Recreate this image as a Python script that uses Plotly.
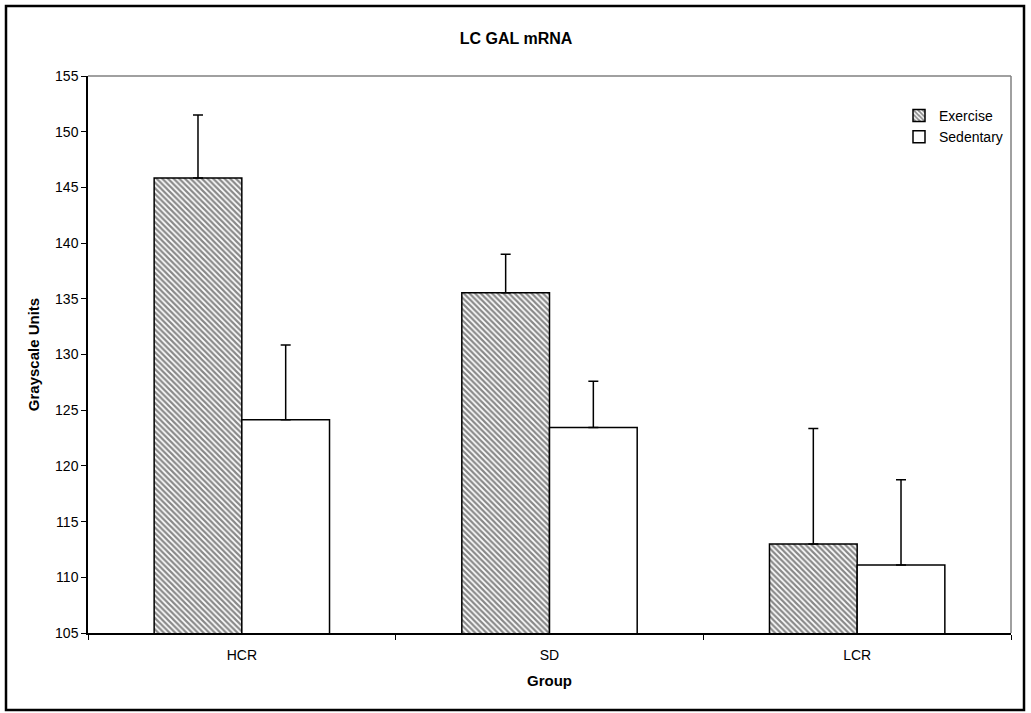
import plotly.graph_objects as go

groups = ["HCR", "SD", "LCR"]
exercise = [145.85, 135.55, 113.0]
exercise_err = [5.65, 3.45, 10.35]
sedentary = [124.15, 123.45, 111.1]
sedentary_err = [6.7, 4.15, 7.65]
y_ticks = [105, 110, 115, 120, 125, 130, 135, 140, 145, 150, 155]

FONT = "Liberation Sans, Arial, sans-serif"

fig = go.Figure()
fig.add_trace(go.Bar(
    name="Exercise", x=groups, y=exercise,
    marker=dict(color="white", line=dict(color="#000000", width=1.5),
                pattern=dict(shape="\\", fgcolor="#111111", bgcolor="white",
                             size=4, solidity=0.55)),
    error_y=dict(type="data", array=exercise_err, arrayminus=[0, 0, 0],
                 symmetric=False, color="#000000", thickness=1.5, width=5),
))
fig.add_trace(go.Bar(
    name="Sedentary", x=groups, y=sedentary,
    marker=dict(color="white", line=dict(color="#000000", width=1.5)),
    error_y=dict(type="data", array=sedentary_err, arrayminus=[0, 0, 0],
                 symmetric=False, color="#000000", thickness=1.5, width=5),
))

L, R, T, B = 88, 20, 76, 80
W, H = 1031, 713
pw, ph = W - L - R, H - T - B

def px(x):
    return (x - L) / pw

def py(y):
    return (H - B - y) / ph

fig.update_layout(
    width=W, height=H,
    margin=dict(l=L, r=R, t=T, b=B),
    paper_bgcolor="white", plot_bgcolor="white",
    barmode="group", bargap=0.43, bargroupgap=0,
    font=dict(family=FONT, size=14, color="#000000"),
    title=dict(text="<b>LC GAL mRNA</b>", x=px(516), xref="paper", xanchor="center",
               y=1 - 38 / H, yanchor="middle", font=dict(size=16, family=FONT)),
    showlegend=True,
    legend=dict(x=px(1008), y=py(100), xanchor="right", yanchor="top",
                bgcolor="rgba(0,0,0,0)", borderwidth=0, itemwidth=30,
                font=dict(size=14, family=FONT), tracegroupgap=0),
    xaxis=dict(
        title=dict(text="<b>Group</b>", font=dict(size=15, family=FONT), standoff=14),
        showline=True, linecolor="#000000", linewidth=1.5,
        ticks="outside", tickson="boundaries", ticklen=5, tickcolor="#000000",
        ticklabelstandoff=8,
        mirror=False, showgrid=False, zeroline=False,
        tickfont=dict(size=14, family=FONT),
    ),
    yaxis=dict(
        title=dict(text="<b>Grayscale Units</b>", font=dict(size=15, family=FONT), standoff=12),
        range=[105, 155], tickvals=y_ticks, ticktext=[str(v) for v in y_ticks],
        showline=True, linecolor="#000000", linewidth=1.5,
        ticks="outside", ticklen=5, tickcolor="#000000",
        showgrid=False, zeroline=False,
        tickfont=dict(size=14, family=FONT),
    ),
    shapes=[
        dict(type="line", xref="paper", yref="paper", x0=0, x1=1, y0=1, y1=1,
             line=dict(color="#808080", width=1.5)),
        dict(type="line", xref="paper", yref="paper", x0=1, x1=1, y0=0, y1=1,
             line=dict(color="#808080", width=1.5)),
        dict(type="rect", xref="paper", yref="paper",
             x0=px(6), x1=px(1024), y0=py(710), y1=py(6),
             line=dict(color="#000000", width=2.5), fillcolor="rgba(0,0,0,0)"),
    ],
)

fig.write_html("out.html")
